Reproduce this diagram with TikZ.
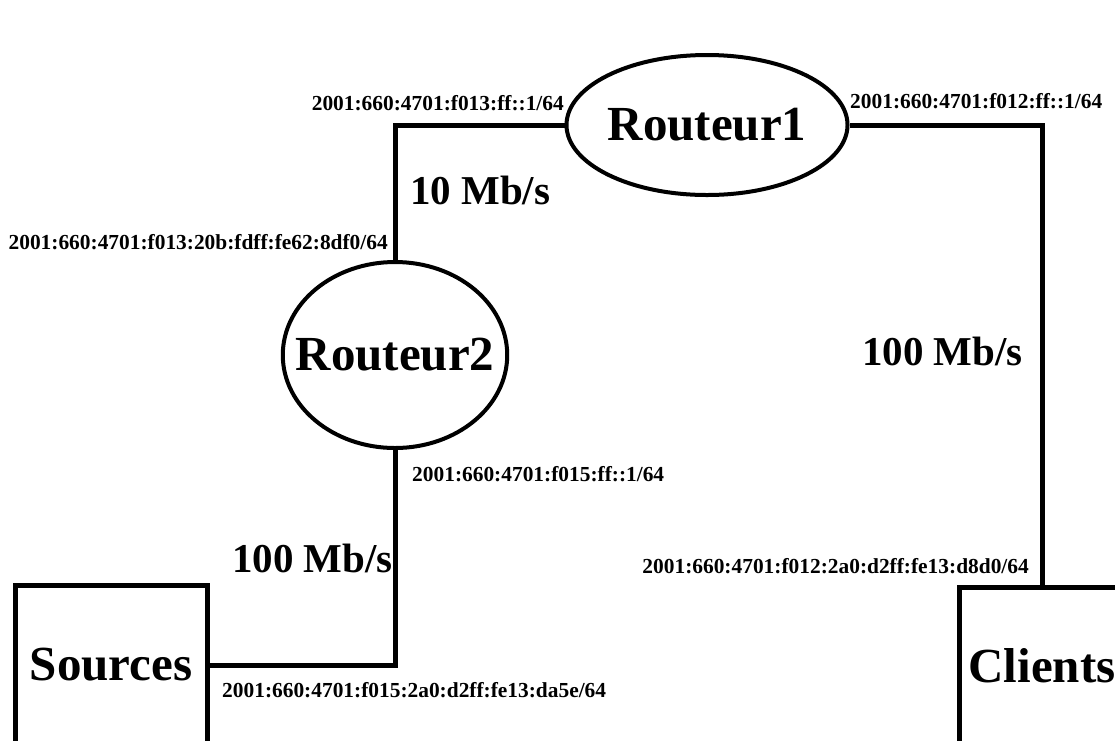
\documentclass[tikz,border=0pt]{standalone}
\usepackage{fontspec}
\setmainfont{Liberation Serif}
\usetikzlibrary{shapes.geometric}

\begin{document}
\begin{tikzpicture}[x=1pt,y=-1pt,
  rtr/.style={ellipse,draw,line width=4pt,inner sep=0pt,font=\fontsize{49}{49}\selectfont\bfseries},
  host/.style={rectangle,draw,line width=5pt,inner sep=0pt,font=\fontsize{49}{49}\selectfont\bfseries},
  link/.style={line width=5pt},
  addr/.style={inner sep=0pt,font=\fontsize{21.4}{21.4}\selectfont\bfseries},
  rate/.style={inner sep=0pt,font=\fontsize{41}{41}\selectfont\bfseries}]
\useasboundingbox (0,0) rectangle (1115,740);
\clip (0,0) rectangle (1115,740);
% routers and hosts
\node[rtr,minimum width=279pt,minimum height=140pt] (r1) at (707,125) {Routeur1};
\node[rtr,inner xsep=-20pt,minimum height=186pt] (r2) at (395,355) {Routeur2};
\node[host,minimum width=192pt,minimum height=160pt] (src) at (111,665) {Sources};
\node[host,minimum width=166pt,minimum height=157pt] (cli) at (1042,666) {Clients};
% links
\draw[link] (r1.west) -| (r2.north);
\draw[link] (r1.east) -| (cli.north);
\draw[link] (r2.south) |- (src.east);
% addresses
\node[addr,anchor=base east] (a13r) at (564,110) {2001:660:4701:f013:ff::1/64};
\node[addr,anchor=base west] (a12r) at (850,108) {2001:660:4701:f012:ff::1/64};
\node[addr,anchor=base east] (a13h) at (388,249) {2001:660:4701:f013:20b:fdff:fe62:8df0/64};
\node[addr,anchor=base west] (a15r) at (412,481) {2001:660:4701:f015:ff::1/64};
\node[addr,anchor=base east] (a12h) at (1029,573) {2001:660:4701:f012:2a0:d2ff:fe13:d8d0/64};
\node[addr,anchor=base west] (a15h) at (222,697) {2001:660:4701:f015:2a0:d2ff:fe13:da5e/64};
% rates
\node[rate,anchor=base west] (d1) at (410,204) {10 Mb/s};
\node[rate,anchor=base west] (d2) at (862,365) {100 Mb/s};
\node[rate,anchor=base east] (d3) at (393,572) {100 Mb/s};
\end{tikzpicture}
\end{document}
